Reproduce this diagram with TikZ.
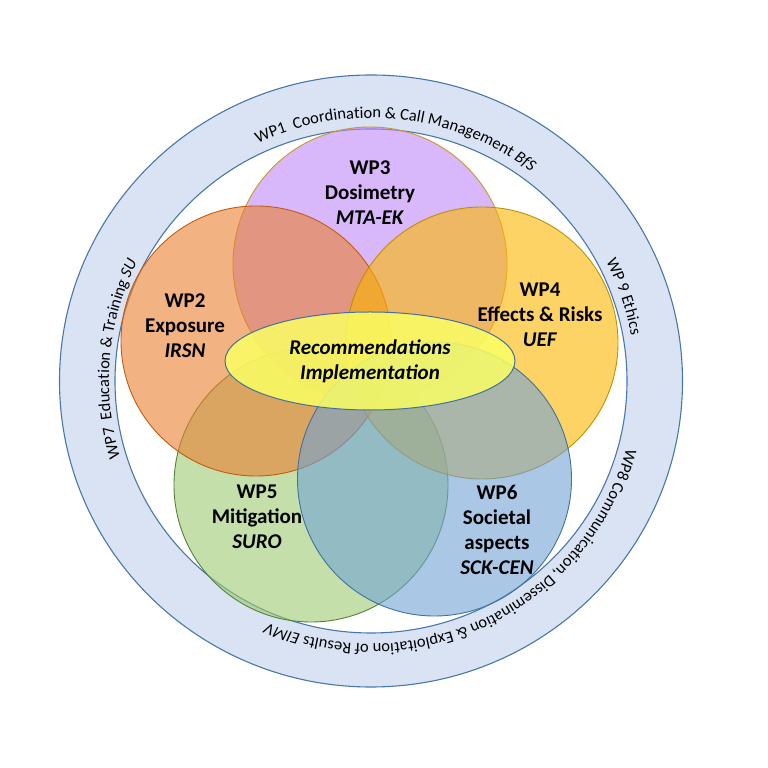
\documentclass[tikz,border=0pt]{standalone}
\usepackage{fontspec}
\setmainfont{Carlito}
\usetikzlibrary{decorations.text}
\definecolor{ringfill}{RGB}{218,227,243}
\definecolor{ringline}{RGB}{72,120,170}
\definecolor{purplef}{RGB}{190,137,247}
\definecolor{purplel}{RGB}{205,150,40}
\definecolor{orangef}{RGB}{233,127,47}
\definecolor{orangel}{RGB}{197,90,17}
\definecolor{yellowf}{RGB}{252,182,0}
\definecolor{yellowl}{RGB}{191,144,0}
\definecolor{greenf}{RGB}{157,202,113}
\definecolor{greenl}{RGB}{84,130,53}
\definecolor{bluef}{RGB}{113,163,213}
\definecolor{bluel}{RGB}{65,113,156}
\definecolor{ellf}{RGB}{250,255,100}
\newcommand\ringfont{\fontsize{16.5}{19}\selectfont}
\tikzset{
  wpcircle/.style={line width=0.9pt, fill opacity=0.6},
  lbl/.style={align=center, font=\fontsize{21}{25}\selectfont\bfseries, inner sep=0pt, text=black},
  ringtext/.style={decorate, decoration={text along path, text align=center, text={#1}}}
}
\begin{document}
\begin{tikzpicture}[x=1pt,y=1pt]
\useasboundingbox (0,0) rectangle (768,768);
\coordinate (c) at (371,387);
% ring
\fill[ringfill,even odd rule] (c) ellipse [x radius=311.5pt,y radius=306pt] (c) ellipse [x radius=256pt,y radius=252pt];
\draw[ringline,line width=1.1pt] (c) ellipse [x radius=311.5pt,y radius=306pt];
\draw[ringline,line width=1.1pt] (c) ellipse [x radius=256pt,y radius=252pt];
% ring texts
\path[ringtext={|\ringfont|WP1 {\ }Coordination {\&} Call Management |\ringfont\itshape|BfS}]
  (c) ++(174:264pt and 263pt) arc[start angle=174, end angle=-6, x radius=264pt, y radius=263pt];
\path[ringtext={|\ringfont|WP 9 Ethics}]
  (c) ++(48.5:264pt and 263pt) arc[start angle=48.5, end angle=-11.5, x radius=264pt, y radius=263pt];
\path[ringtext={|\ringfont|WP8 Communication, Dissemination {\&} Exploitation of Results |\ringfont\itshape|EIMV}]
  (c) ++(-4:264pt and 263pt) arc[start angle=-4, end angle=-124, x radius=264pt, y radius=263pt];
\path[ringtext={|\ringfont|WP7 {\ }Education {\&} Training |\ringfont\itshape|SU}]
  (c) ++(235:262pt and 263pt) arc[start angle=235, end angle=115, x radius=262pt, y radius=263pt];
% circles
\path[wpcircle, draw=purplel, fill=purplef] (370,504) circle[radius=137pt];
\path[wpcircle, draw=greenl, fill=greenf] (311,283) circle[radius=137pt];
\path[wpcircle, draw=orangel, fill=orangef] (256,427) circle[radius=135pt];
\path[wpcircle, draw=yellowl, fill=yellowf] (482,425) circle[radius=136pt];
\path[wpcircle, draw=bluel, fill=bluef] (434.5,289) circle[radius=137pt];
% central ellipse
\path[draw=bluel, line width=1pt, fill=ellf, fill opacity=0.85] (370,407) ellipse[x radius=145pt, y radius=49pt];
% labels
\node[lbl] (wp3) at (370,575.5) {WP3\\Dosimetry\\\textit{MTA-EK}};
\node[lbl] (wp2) at (185,442) {WP2\\Exposure\\\textit{IRSN}};
\node[lbl] (wp4) at (540,453) {WP4\\Effects \& Risks\\\textit{UEF}};
\node[lbl] (wp5) at (257,251) {WP5\\Mitigation\\\textit{SURO}};
\node[lbl] (wp6) at (497,238.5) {WP6\\Societal\\aspects\\\textit{SCK-CEN}};
\node[lbl, font=\fontsize{21}{25}\selectfont\bfseries\itshape] (rec) at (370,406.5) {Recommendations\\Implementation};
\end{tikzpicture}
\end{document}
